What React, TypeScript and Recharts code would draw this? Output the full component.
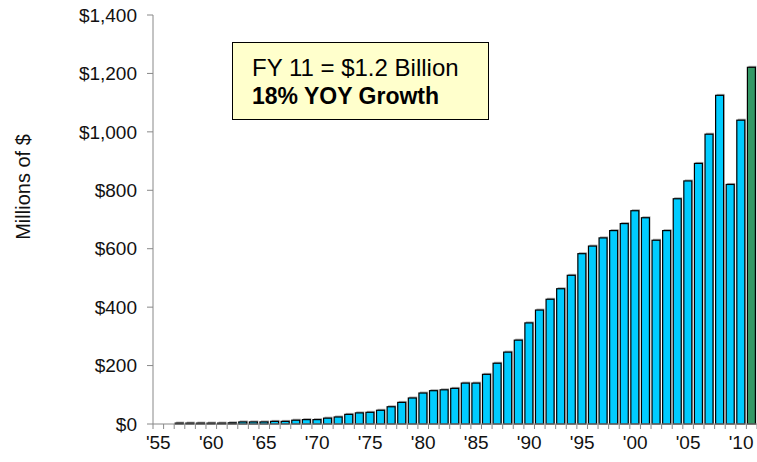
import React from 'react';
import { BarChart, Bar, XAxis, YAxis, Cell } from 'recharts';

// fiscal years '55 .. '11
const years = [
  "'55", "'56", "'57", "'58", "'59", "'60", "'61", "'62", "'63", "'64",
  "'65", "'66", "'67", "'68", "'69", "'70", "'71", "'72", "'73", "'74",
  "'75", "'76", "'77", "'78", "'79", "'80", "'81", "'82", "'83", "'84",
  "'85", "'86", "'87", "'88", "'89", "'90", "'91", "'92", "'93", "'94",
  "'95", "'96", "'97", "'98", "'99", "'00", "'01", "'02", "'03", "'04",
  "'05", "'06", "'07", "'08", "'09", "'10", "'11",
];

// revenue, millions of $
const revenue = [
  0, 0, 3, 3, 3, 3, 3, 4, 7, 7,
  7, 9, 9, 13, 15, 15, 20, 24, 33, 38,
  40, 47, 59, 74, 89, 106, 114, 117, 122, 140,
  140, 170, 208, 246, 287, 346, 390, 427, 463, 509,
  583, 609, 637, 662, 686, 730, 706, 629, 662, 771,
  832, 892, 992, 1125, 820, 1040, 1221,
];

const yTicks = [0, 200, 400, 600, 800, 1000, 1200, 1400];
const labelEvery = 5;
const currentYear = "'11";

const data = years.map((year, i) => ({ year, revenue: revenue[i] }));

const FONT = '"Liberation Sans", Arial, sans-serif';
const CHART_W = 757;
const CHART_H = 462;
const Y_AXIS_W = 153;
const PLOT_W = CHART_W - Y_AXIS_W;
const BAND = PLOT_W / years.length;

const formatMoney = (v: number) => `$${v.toLocaleString('en-US')}`;

const YearTick = (props: any) => {
  const { x, y, payload, index } = props;
  const isLast = index === years.length - 1;
  return (
    <g>
      <line x1={x - BAND / 2} y1={y} x2={x - BAND / 2} y2={y + 5} stroke="#888" />
      {isLast && <line x1={x + BAND / 2} y1={y} x2={x + BAND / 2} y2={y + 5} stroke="#888" />}
      {index % labelEvery === 0 && (
        <text x={x} y={y + 25} textAnchor="middle" fontSize={19} fontFamily={FONT} fill="#111">
          {payload.value}
        </text>
      )}
    </g>
  );
};

const ShadowBar = (props: any) => {
  const { x, y, width, height, fill } = props;
  if (!height || height <= 0) return null;
  return (
    <g>
      <rect x={x + 1} y={y - 1.5} width={width} height={height + 1.5} fill="#aaa" />
      <rect x={x} y={y} width={width} height={height} fill={fill} stroke="#000" strokeWidth={1.2} />
    </g>
  );
};

export default function App() {
  return (
    <div style={{ position: 'absolute', left: 0, top: 0, width: CHART_W, height: CHART_H, background: '#fff', fontFamily: FONT }}>
      <BarChart
        width={CHART_W}
        height={CHART_H}
        data={data}
        margin={{ top: 15, right: 0, bottom: 0, left: 0 }}
      >
        <XAxis
          dataKey="year"
          height={38}
          interval={0}
          tickSize={0}
          tickMargin={0}
          tickLine={false}
          axisLine={{ stroke: '#888' }}
          tick={<YearTick />}
        />
        <YAxis
          width={Y_AXIS_W}
          domain={[0, 1400]}
          ticks={yTicks}
          tickFormatter={formatMoney}
          tickSize={6}
          tickMargin={10}
          axisLine={{ stroke: '#888' }}
          tickLine={{ stroke: '#888' }}
          tick={{ fontSize: 19, fontFamily: FONT, fill: '#111' }}
          label={{
            content: () => (
              <text
                x={23}
                y={187}
                transform="rotate(-90 23 187)"
                textAnchor="middle"
                dominantBaseline="central"
                fontSize={20}
                fontFamily={FONT}
                fill="#111"
              >
                Millions of $
              </text>
            ),
          }}
        />
        <Bar dataKey="revenue" barSize={8} fill="#00CCFF" shape={<ShadowBar />} isAnimationActive={false}>
          {data.map((d) => (
            <Cell key={d.year} fill={d.year === currentYear ? '#339966' : '#00CCFF'} />
          ))}
        </Bar>
      </BarChart>
      <div
        style={{
          position: 'absolute',
          left: 232,
          top: 42,
          width: 257,
          height: 78,
          background: '#FFFFCC',
          border: '1.5px solid #000',
          boxSizing: 'border-box',
          padding: '10px 0 0 19px',
          lineHeight: '29px',
          color: '#000',
        }}
      >
        <div style={{ fontSize: 24 }}>FY 11 = $1.2 Billion</div>
        <div style={{ fontSize: 23, fontWeight: 'bold' }}>18% YOY Growth</div>
      </div>
    </div>
  );
}
